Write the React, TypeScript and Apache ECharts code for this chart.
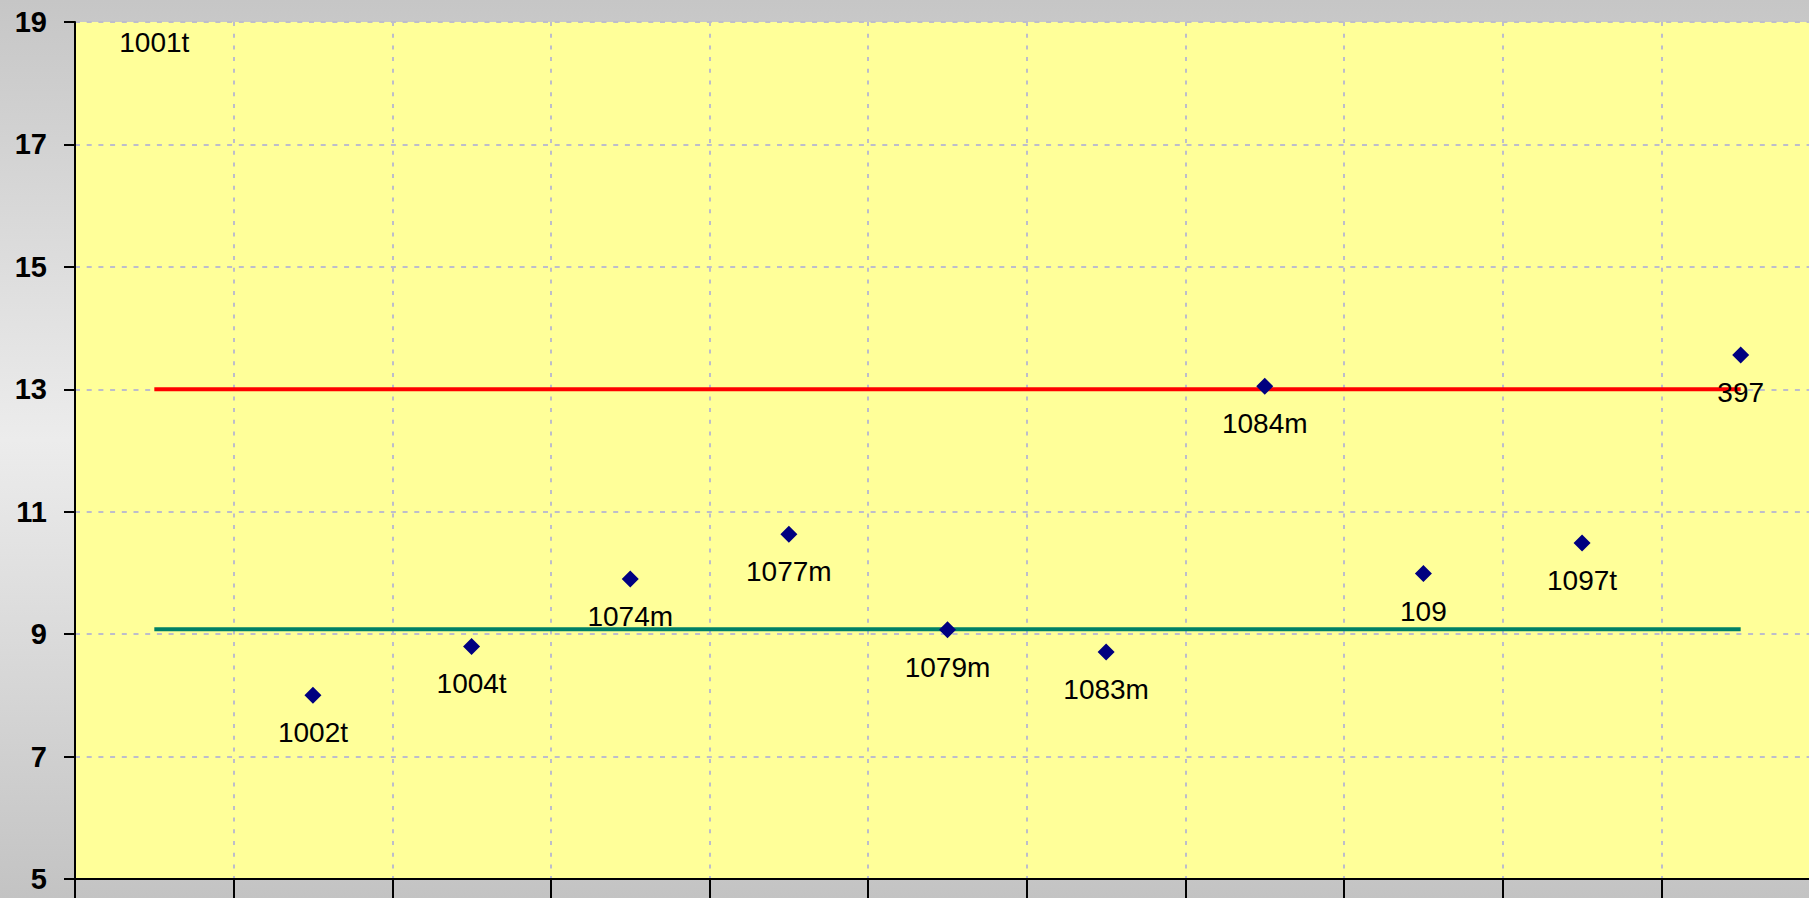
import React, { useEffect, useRef } from "react";
import * as echarts from "echarts";

const categories = ["1001t", "1002t", "1004t", "1074m", "1077m", "1079m", "1083m", "1084m", "109", "1097t", "397"];
const values = [19.28, 8.0, 8.8, 9.9, 10.63, 9.07, 8.71, 13.05, 9.99, 10.49, 13.56];
const upperLine = [13, 13, 13, 13, 13, 13, 13, 13, 13, 13, 13];
const centerLine = [9.08, 9.08, 9.08, 9.08, 9.08, 9.08, 9.08, 9.08, 9.08, 9.08, 9.08];
const yMin = 5;
const yMax = 19;
const yStep = 2;

export default function App() {
  const ref = useRef<HTMLDivElement>(null);
  useEffect(() => {
    if (!ref.current) return;
    const chart = echarts.init(ref.current, undefined, { renderer: "svg" });
    const font = "'Liberation Sans', Arial, sans-serif";
    const scatterData = values.map((v) =>
      v > yMax ? { value: v, itemStyle: { color: "transparent" } } : { value: v }
    );
    chart.setOption({
      animation: false,
      backgroundColor: "transparent",
      grid: {
        left: 75,
        top: 22,
        width: 1745,
        height: 857,
        show: true,
        backgroundColor: "#ffff99",
        borderWidth: 0,
        containLabel: false,
        outerBoundsMode: "none",
      },
      xAxis: {
        type: "category",
        data: categories,
        boundaryGap: true,
        axisLine: { show: true, lineStyle: { color: "#000", width: 2 } },
        axisTick: { show: true, length: 20, alignWithLabel: false, lineStyle: { color: "#000", width: 2 } },
        axisLabel: { show: false },
        splitLine: { show: true, lineStyle: { color: "#bdbdcb", width: 2, type: [4, 7.7] } },
      },
      yAxis: {
        type: "value",
        min: yMin,
        max: yMax,
        interval: yStep,
        axisLine: { show: true, lineStyle: { color: "#000", width: 2 } },
        axisTick: { show: true, length: 11, lineStyle: { color: "#000", width: 2 } },
        axisLabel: {
          margin: 28,
          color: "#000",
          fontFamily: font,
          fontWeight: "bold",
          fontSize: 29,
        },
        splitLine: { show: true, lineStyle: { color: "#bdbdcb", width: 2, type: [5, 6.7] } },
      },
      series: [
        {
          type: "line",
          data: upperLine,
          symbol: "none",
          lineStyle: { color: "#ff0000", width: 4 },
          z: 2,
        },
        {
          type: "line",
          data: centerLine,
          symbol: "none",
          lineStyle: { color: "#008066", width: 4 },
          z: 2,
        },
        {
          type: "scatter",
          data: scatterData,
          symbol: "diamond",
          symbolSize: 17,
          clip: false,
          itemStyle: { color: "#000080", opacity: 1 },
          label: {
            show: true,
            position: "bottom",
            distance: 15,
            formatter: "{b}",
            color: "#000",
            opacity: 1,
            fontFamily: font,
            fontSize: 28,
          },
          z: 5,
        },
      ],
    });
    return () => chart.dispose();
  }, []);
  return (
    <div
      style={{
        position: "fixed",
        left: 0,
        top: 0,
        width: 1809,
        height: 898,
        background: "linear-gradient(to bottom, #c6c6c6 0%, #ececec 49%, #c3c3c3 100%)",
      }}
    >
      <div ref={ref} style={{ width: 1809, height: 898 }} />
    </div>
  );
}
